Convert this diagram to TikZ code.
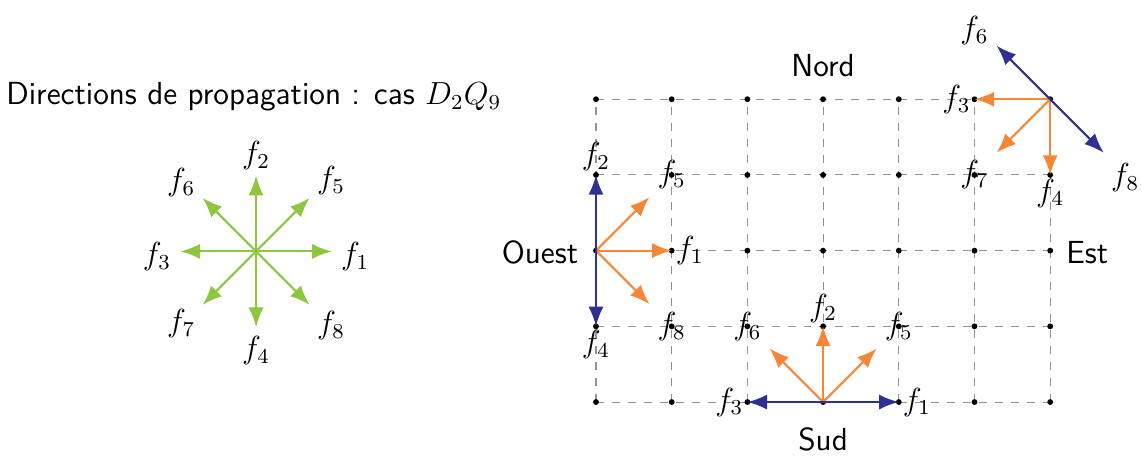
\RequirePackage{fix-cm}
\documentclass[tikz,border=0pt]{standalone}
\usetikzlibrary{arrows.meta,calc}
\definecolor{vert}{RGB}{141,198,63}
\definecolor{orng}{RGB}{245,135,55}
\definecolor{bleu}{RGB}{46,49,146}
\tikzset{
  vec/.style={thick,-{Latex[length=2.6mm,width=2mm]}},
  gvec/.style={vec,vert},
  ovec/.style={vec,orng},
  bvec/.style={vec,bleu},
  gridline/.style={gray!85,dashed,thin},
  dot/.style={circle,fill=black,inner sep=0pt,minimum size=2.2pt},
  lab/.style={font=\fontsize{12}{14.5}\selectfont\sffamily},
  every node/.style={font=\fontsize{12}{14.5}\selectfont},
}
\begin{document}
\begin{tikzpicture}
\useasboundingbox (-7.873,-0.700) rectangle (7.213,5.311);
% title
\node[lab] (title) at (-4.52,4.03) {Directions de propagation : cas $D_2Q_9$};
% star
\coordinate (c) at (-4.49,1.99);
\foreach \i/\a in {1/0,2/90,3/180,4/270,5/45,6/135,7/225,8/315}{
  \coordinate (s\i) at ($(c)+(\a:1)$);
  \draw[gvec] (c) -- (s\i);
}
\node (l1) at ($(c)+(1.31,-0.07)$) {$f_1$};
\node (l2) at ($(c)+(0,1.27)$) {$f_2$};
\node (l3) at ($(c)+(-1.31,-0.07)$) {$f_3$};
\node (l4) at ($(c)+(0,-1.31)$) {$f_4$};
\node (l5) at ($(c)+(0.99,0.94)$) {$f_5$};
\node (l6) at ($(c)+(-0.99,0.91)$) {$f_6$};
\node (l7) at ($(c)+(-0.99,-0.95)$) {$f_7$};
\node (l8) at ($(c)+(0.99,-0.98)$) {$f_8$};
% grid
\foreach \x in {0,...,6} \draw[gridline] (\x,0) -- (\x,4);
\foreach \y in {0,...,4} \draw[gridline] (0,\y) -- (6,\y);
\foreach \x in {0,...,6}
  \foreach \y in {0,...,4}
    \node[dot] (g\x\y) at (\x,\y) {};
% labels
\node[lab] (nord) at (3,4.45) {Nord};
\node[lab] (sud) at (3,-0.50) {Sud};
\node[lab] (ouest) at (-0.74,1.97) {Ouest};
\node[lab] (est) at (6.49,1.97) {Est};
% Ouest
\coordinate (o5) at ($(g02)+(45:1)$);
\coordinate (o8) at ($(g02)+(-45:1)$);
\draw[ovec] (g02.center) -- (g12.center);
\draw[ovec] (g02.center) -- (o5);
\draw[ovec] (g02.center) -- (o8);
\draw[bvec] (g02.center) -- (g03.center);
\draw[bvec] (g02.center) -- (g01.center);
\node[above,yshift=-2pt] (of2) at (g03) {$f_2$};
\node[below,yshift=2pt] (of4) at (g01) {$f_4$};
\node[right,xshift=-2pt] (of1) at (g12) {$f_1$};
\node (of5) at (g13) {$f_5$};
\node (of8) at (g11) {$f_8$};
% Sud
\coordinate (s5p) at ($(g30)+(45:1)$);
\coordinate (s6p) at ($(g30)+(135:1)$);
\draw[ovec] (g30.center) -- (g31.center);
\draw[ovec] (g30.center) -- (s5p);
\draw[ovec] (g30.center) -- (s6p);
\draw[bvec] (g30.center) -- (g20.center);
\draw[bvec] (g30.center) -- (g40.center);
\node[left,xshift=2pt] (sf3) at (g20) {$f_3$};
\node[right,xshift=-2pt] (sf1) at (g40) {$f_1$};
\node[above,yshift=-2pt] (sf2) at (g31) {$f_2$};
\node (sf6) at (g21) {$f_6$};
\node (sf5) at (g41) {$f_5$};
% Nord-Est
\coordinate (n7) at ($(g64)+(225:1)$);
\coordinate (n6) at ($(g64)+(135:1)$);
\coordinate (n8) at ($(g64)+(-45:1)$);
\draw[ovec] (g64.center) -- (g54.center);
\draw[ovec] (g64.center) -- (g63.center);
\draw[ovec] (g64.center) -- (n7);
\draw[bvec] (g64.center) -- (n6);
\draw[bvec] (g64.center) -- (n8);
\node[left,xshift=2pt] (nf3) at (g54) {$f_3$};
\node (nf7) at (g53) {$f_7$};
\node[below,yshift=2pt] (nf4) at (g63) {$f_4$};
\node (nf6) at (5.0,4.91) {$f_6$};
\node (nf8) at (6.99,2.96) {$f_8$};
\end{tikzpicture}
\end{document}
